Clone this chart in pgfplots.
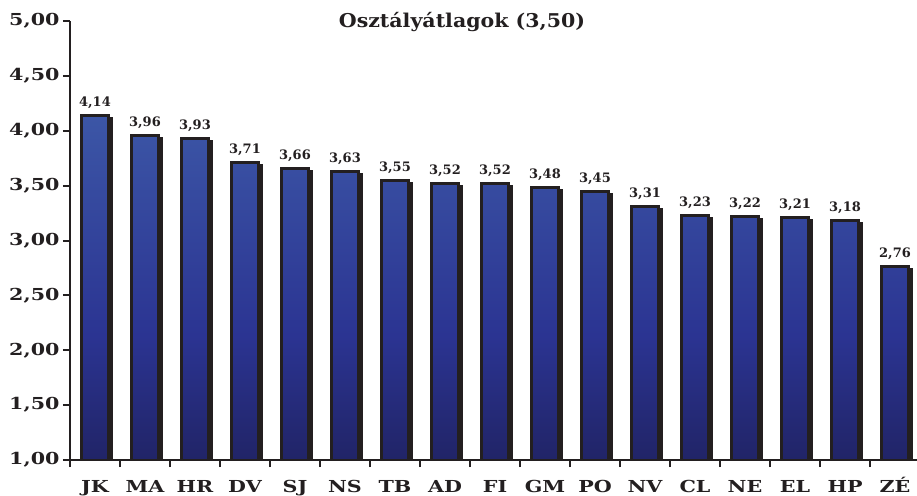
\documentclass[border=0pt]{standalone}
\usepackage{fontspec}
\setmainfont{DejaVu Serif}
\newfontfamily\widefont[FakeStretch=1.25]{DejaVu Serif}
\newfontfamily\titlefont[FakeStretch=1.08]{DejaVu Serif}
\usepackage{pgfplots}
\pgfplotsset{compat=1.18}
\usepackage{pgfplotstable}
\usetikzlibrary{calc}
\definecolor{btop}{HTML}{3C56A6}
\definecolor{bmid}{HTML}{2B3492}
\definecolor{bbot}{HTML}{212467}
\definecolor{edge}{HTML}{231F20}
\pgfdeclareverticalshading{barshade}{100bp}{color(0bp)=(bbot); color(25bp)=(bbot); color(43bp)=(bmid); color(75bp)=(btop); color(100bp)=(btop)}
\pgfplotstableread{
x v
0 4.14
1 3.96
2 3.93
3 3.71
4 3.66
5 3.63
6 3.55
7 3.52
8 3.52
9 3.48
10 3.45
11 3.31
12 3.23
13 3.22
14 3.21
15 3.18
16 2.76
}\data
\begin{document}
\begin{tikzpicture}
\begin{axis}[name=ax, scale only axis, width=847pt, height=439pt,
  xmin=-0.5, xmax=16.44, ymin=1, ymax=5,
  axis x line*=bottom, axis y line*=left,
  axis line style={edge, line width=2.5pt, -},
  tick align=outside,
  xtick={0,...,16},
  xticklabels={JK,MA,HR,DV,SJ,NS,TB,AD,FI,GM,PO,NV,CL,NE,EL,HP,ZÉ},
  xticklabel style={text height=16pt, text depth=0pt, yshift=-6pt},
  major x tick style={draw=none},
  minor xtick={-0.5,0.5,...,15.5},
  minor x tick style={edge, line width=2pt},
  minor tick length=7pt, major tick length=7pt,
  ytick={1,1.5,2,2.5,3,3.5,4,4.5,5},
  y tick style={edge, line width=2pt},
  yticklabel style={/pgf/number format/.cd, fixed, fixed zerofill, precision=2, use comma, assume math mode=true},
  ticklabel style={font=\widefont\bfseries\fontsize{16.5}{16.5}\selectfont, text=edge},
]
\addplot[ybar, bar width=27pt, bar shift=3pt, yshift=-3pt, fill=edge, draw=edge, line width=3pt, forget plot] table[x=x,y=v]{\data};
\addplot[ybar, bar width=27pt, bar shift=0pt, draw=edge, line width=3pt, shade, shading=barshade,
  nodes near coords={\pgfmathprintnumber[fixed, fixed zerofill, precision=2, use comma, assume math mode=true]{\pgfplotspointmeta}},
  every node near coord/.append style={font=\bfseries\fontsize{13}{13}\selectfont, text=edge, yshift=2pt}] table[x=x,y=v]{\data};
\end{axis}
\node[anchor=base, inner sep=0pt, text=edge, font=\titlefont\bfseries\fontsize{19}{19}\selectfont, yshift=-7pt] at ($(ax.north west)!0.4628!(ax.north east)$) {Osztályátlagok (3,50)};
\pgfresetboundingbox
\useasboundingbox ($(ax.south west)+(-70pt,-35pt)$) rectangle ($(ax.north east)+(0pt,21pt)$);
\end{tikzpicture}
\end{document}
